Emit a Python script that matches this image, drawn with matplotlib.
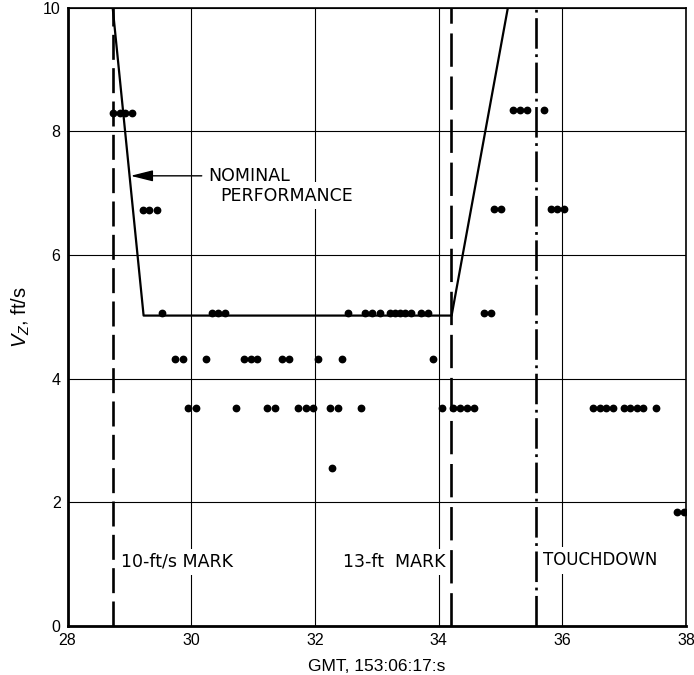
import numpy as np
import matplotlib
matplotlib.use('Agg')
import matplotlib.pyplot as plt

plt.rcParams['font.family'] = ['Liberation Sans', 'DejaVu Sans']
plt.rcParams['mathtext.fontset'] = 'custom'
plt.rcParams['mathtext.rm'] = 'Liberation Sans'
plt.rcParams['mathtext.it'] = 'Liberation Sans:italic'
plt.rcParams['lines.scale_dashes'] = False

# measured vertical velocity samples (GMT seconds, ft/s)
t_obs = [28.73, 28.85, 28.93, 29.05,
         29.22, 29.32, 29.44,
         29.52, 30.33, 30.44, 30.54, 32.53, 32.81, 32.92, 33.05, 33.22, 33.30,
         33.38, 33.45, 33.56, 33.71, 33.83, 34.73, 34.85,
         29.73, 29.87, 30.24, 30.86, 30.96, 31.07, 31.46, 31.58, 32.05, 32.44, 33.91,
         29.95, 30.08, 30.73, 31.23, 31.36, 31.73, 31.85, 31.97, 32.25, 32.38, 32.74,
         34.06, 34.24, 34.35, 34.46, 34.57,
         36.49, 36.61, 36.71, 36.82, 36.99, 37.10, 37.21, 37.31, 37.51,
         32.27,
         37.86, 37.97,
         34.90, 35.01, 35.81, 35.92, 36.02,
         35.21, 35.31, 35.43, 35.71]
v_obs = [8.30, 8.30, 8.30, 8.30,
         6.72, 6.72, 6.72,
         5.06, 5.06, 5.06, 5.06, 5.06, 5.06, 5.06, 5.06, 5.06, 5.06,
         5.06, 5.06, 5.06, 5.06, 5.06, 5.06, 5.06,
         4.31, 4.31, 4.31, 4.31, 4.31, 4.31, 4.31, 4.31, 4.31, 4.31, 4.31,
         3.52, 3.52, 3.52, 3.52, 3.52, 3.52, 3.52, 3.52, 3.52, 3.52, 3.52,
         3.52, 3.52, 3.52, 3.52, 3.52,
         3.53, 3.53, 3.53, 3.53, 3.53, 3.53, 3.53, 3.53, 3.53,
         2.56,
         1.85, 1.85,
         6.75, 6.75, 6.75, 6.75, 6.75,
         8.34, 8.34, 8.34, 8.34]

# nominal performance profile
nom_t = [28.73, 29.23, 34.21, 35.12]
nom_v = [10.0, 5.02, 5.02, 10.0]

# event marks
mark_t = [28.74, 34.20, 35.58]
mark_lbl = ['10-ft/s MARK', '13-ft  MARK', 'TOUCHDOWN']

fig = plt.figure(figsize=(6.94, 6.75), dpi=100)
ax = fig.add_axes([0.0973, 0.0726, 0.8912, 0.9161])

ax.set_xlim(28, 38)
ax.set_ylim(0, 10)
ax.set_xticks(np.arange(28, 39, 2))
ax.set_yticks(np.arange(0, 11, 2))
ax.grid(True, color='black', linewidth=0.8, zorder=0)
ax.set_axisbelow(True)
ax.tick_params(length=0, pad=5, labelsize=11.5)
for s in ax.spines.values():
    s.set_linewidth(1.2)
ax.spines['left'].set_linewidth(2.0)
ax.spines['bottom'].set_linewidth(2.0)

ax.plot(nom_t, nom_v, color='black', linewidth=1.6, zorder=5)
ax.plot(t_obs, v_obs, 'o', color='black', markersize=4.6, zorder=6)

styles = [(0, (18, 6)), (0, (24, 7)), (0, (22, 4, 2, 4))]
for t, ls in zip(mark_t, styles):
    ax.axvline(t, color='black', linewidth=1.9, linestyle=ls, zorder=4)

lbl_font = ['DejaVu Sans']
box = dict(facecolor='white', edgecolor='none', pad=3)
ax.text(28.86, 1.04, mark_lbl[0], fontsize=12.5, family=lbl_font,
        ha='left', va='center', bbox=box, zorder=3)
ax.text(34.11, 1.03, mark_lbl[1], fontsize=12.5, family=lbl_font,
        ha='right', va='center', bbox=box, zorder=3)
ax.text(35.69, 1.06, mark_lbl[2], fontsize=12, family=lbl_font,
        ha='left', va='center', bbox=box, zorder=3)

ax.annotate('', xy=(29.02, 7.28), xytext=(30.17, 7.28),
            arrowprops=dict(arrowstyle='-|>,head_length=0.8,head_width=0.2',
                            color='black', lw=1.0, mutation_scale=17,
                            shrinkA=0, shrinkB=0), zorder=5)
ax.text(30.27, 7.28, 'NOMINAL', fontsize=12.5, family=lbl_font,
        ha='left', va='center', bbox=box, zorder=3)
ax.text(30.47, 6.96, 'PERFORMANCE', fontsize=12.5, family=lbl_font,
        ha='left', va='center', bbox=box, zorder=3)

ax.set_xlabel('GMT, 153:06:17:s', fontsize=12.5, labelpad=8)
ax.set_ylabel(r'$V_Z$, ft/s', fontsize=14.5, labelpad=8)

fig.savefig('out.png', dpi=100)
